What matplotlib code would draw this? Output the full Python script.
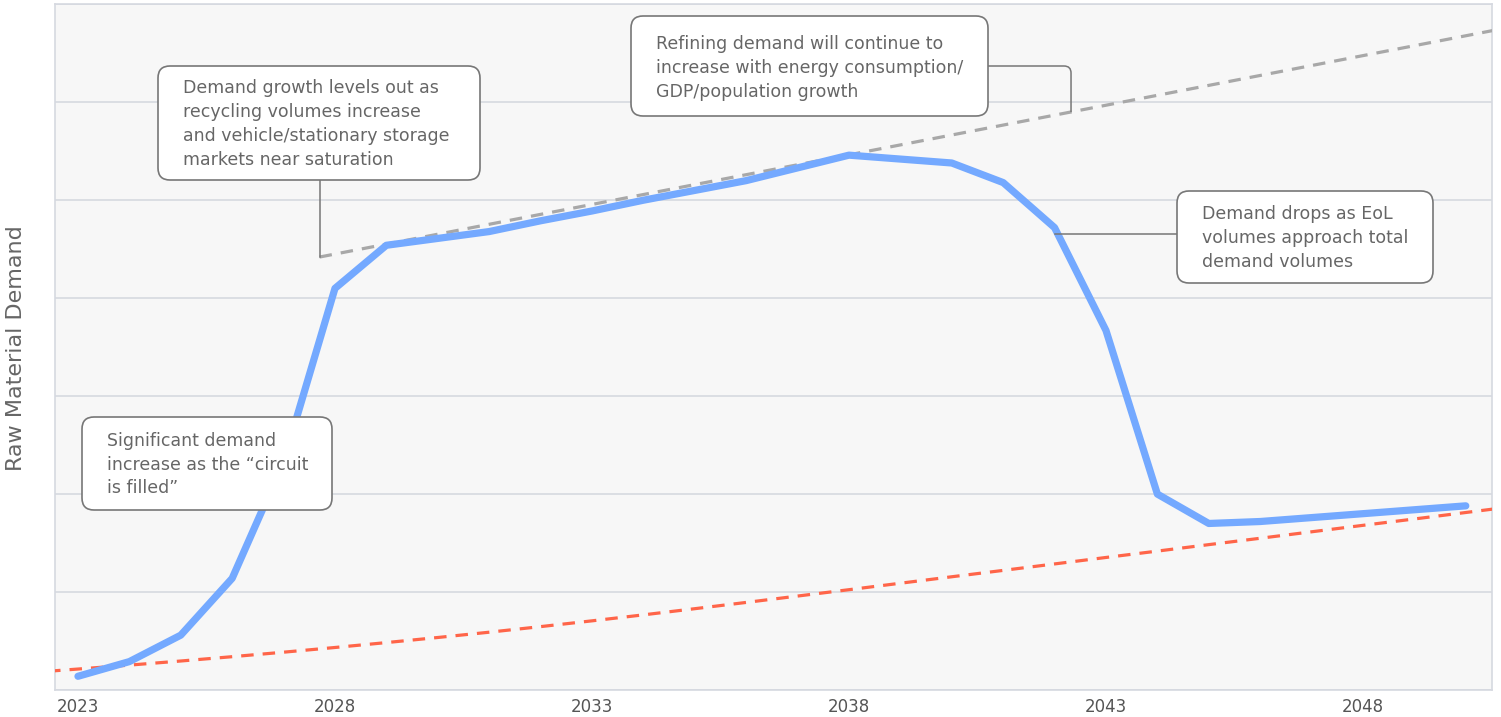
import matplotlib
matplotlib.use("Agg")
import matplotlib.pyplot as plt
import numpy as np
from matplotlib.patches import FancyBboxPatch, PathPatch
from matplotlib.path import Path
from matplotlib.transforms import Affine2D

# ---------------- data ----------------
years = list(range(2023, 2051))
raw_demand = [0.14, 0.29, 0.56, 1.14, 2.33, 4.10, 4.54, 4.61, 4.68, 4.79,
              4.89, 5.00, 5.10, 5.20, 5.33, 5.46, 5.42, 5.38, 5.18, 4.72,
              3.67, 2.00, 1.70, 1.72, 1.76, 1.80, 1.84, 1.88]

refining_years = [2027.7, 2051.0]
refining_trend = [4.42, 6.78]

baseline_years = list(range(2022, 2052))
baseline = [0.175, 0.214, 0.254, 0.296, 0.340, 0.386, 0.434, 0.484, 0.536, 0.590,
            0.647, 0.706, 0.767, 0.830, 0.894, 0.959, 1.024, 1.090, 1.156, 1.221,
            1.287, 1.353, 1.418, 1.484, 1.549, 1.615, 1.681, 1.746, 1.812, 1.878]

tick_years = [2023, 2028, 2033, 2038, 2043, 2048]
y_label = "Raw Material Demand"

notes = [
    ["Demand growth levels out as", "recycling volumes increase",
     "and vehicle/stationary storage", "markets near saturation"],
    ["Refining demand will continue to", "increase with energy consumption/",
     "GDP/population growth"],
    ["Demand drops as EoL", "volumes approach total", "demand volumes"],
    ["Significant demand", "increase as the \u201ccircuit", "is filled\u201d"],
]

# ---------------- style ----------------
FONT = "DejaVu Sans"
plt.rcParams["font.family"] = [FONT]
plt.rcParams["lines.scale_dashes"] = False
TEXT_C = "#666666"
GRID_C = "#D6D9E0"
BOX_EDGE = "#777777"
BLUE = "#74A9FF"
RED = "#FF6549"
GRAY = "#A8A8A8"

W, H = 1501, 717
fig = plt.figure(figsize=(W / 100, H / 100), dpi=100)
fig.patch.set_facecolor("white")
ax = fig.add_axes([55 / W, 1 - 690 / H, (1492 - 55) / W, (690 - 4.3) / H])
ax.set_facecolor("#F7F7F7")

ax.set_xlim(2022.553, 2050.51)
ax.set_ylim(0, 7.0)
ax.set_yticks(range(0, 8))
ax.yaxis.grid(True, color=GRID_C, lw=1.2)
ax.set_axisbelow(True)
ax.tick_params(axis="y", left=False, labelleft=False)
ax.set_xticks(tick_years)
ax.set_xticklabels([str(t) for t in tick_years])
ax.tick_params(axis="x", length=0, pad=6, labelsize=12, labelcolor="#555555")
for s in ax.spines.values():
    s.set_color(GRID_C)
    s.set_linewidth(1.2)

# lines
ax.plot(baseline_years, baseline, color=RED, lw=2.3, dashes=(9, 6.5), zorder=3)
ax.plot(refining_years, refining_trend, color=GRAY, lw=2.3, dashes=(9, 6.5), zorder=3)
ax.plot(years, raw_demand, color=BLUE, lw=5.2, solid_capstyle="round",
        solid_joinstyle="round", zorder=4)

# pixel (top-left origin) transform
px = Affine2D().scale(1, -1).translate(0, H)


def to_px(x, y):
    dx, dy = ax.transData.transform((x, y))
    return dx, H - dy


boxes = [
    ((158, 66, 480, 180), 183, [93, 117, 141, 165]),
    ((631, 16, 988, 116), 656, [49, 73, 97]),
    ((1177, 191, 1433, 283), 1202, [219, 243, 267]),
    ((82, 417, 332, 510), 107, [446, 470, 493]),
]

for i, ((x0, y0, x1, y1), tx, bases) in enumerate(boxes):
    p = FancyBboxPatch((x0, y0), x1 - x0, y1 - y0,
                       boxstyle="round,pad=0,rounding_size=12",
                       transform=px, facecolor="white", edgecolor=BOX_EDGE,
                       lw=1.2, zorder=6, clip_on=False)
    fig.add_artist(p)
    for line, b in zip(notes[i], bases):
        fig.text(tx, b, line, transform=px, ha="left", va="baseline",
                 fontsize=12.5, color=TEXT_C, zorder=7)

# connectors
# box 1 -> start of refining trend
cx, cy = to_px(refining_years[0], refining_trend[0])
fig.add_artist(plt.Line2D([cx, cx], [180, cy], transform=px, color=BOX_EDGE,
                          lw=1.1, zorder=2))
# box 2 -> refining trend
yr2 = 2042.32
ex, ey = to_px(yr2, np.interp(yr2, refining_years, refining_trend))
path = Path([(988, 66), (ex - 7, 66), (ex, 66), (ex, 73), (ex, ey)],
            [Path.MOVETO, Path.LINETO, Path.CURVE3, Path.CURVE3, Path.LINETO])
fig.add_artist(PathPatch(path, transform=px, facecolor="none", edgecolor=BOX_EDGE,
                         lw=1.1, zorder=2))
# box 3 -> raw demand 2042
bx, by = to_px(2042, raw_demand[years.index(2042)])
fig.add_artist(plt.Line2D([bx, 1177], [234, 234], transform=px, color=BOX_EDGE,
                          lw=1.1, zorder=2))

fig.text(16 / W, 1 - 348 / H, y_label, rotation=90, ha="center", va="center",
         fontsize=16, color=TEXT_C)

fig.savefig("out.png", dpi=100, facecolor="white")
